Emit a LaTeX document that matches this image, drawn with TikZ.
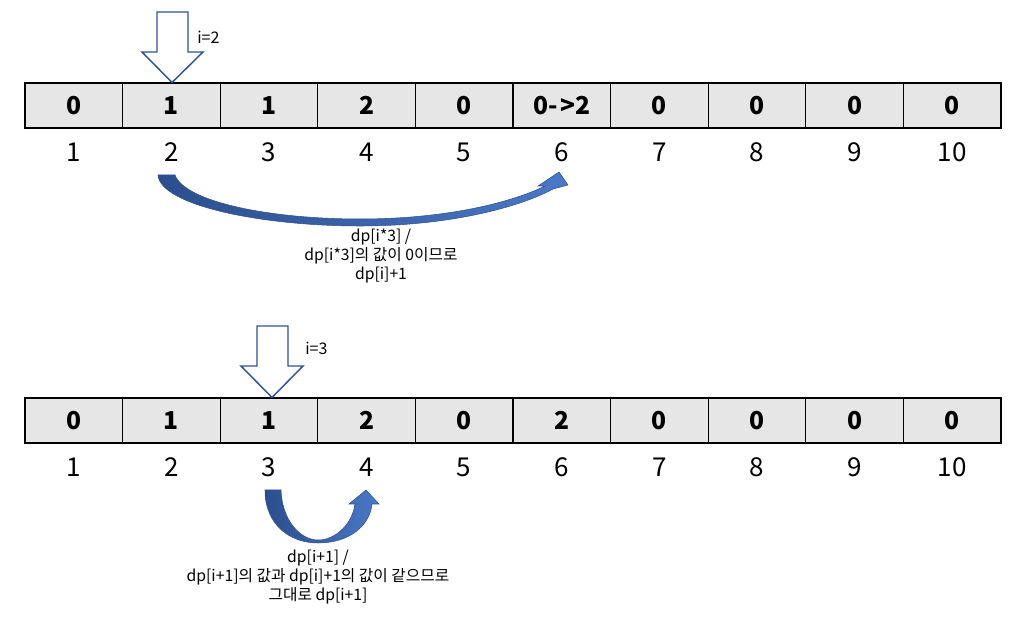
\documentclass[tikz,border=0pt]{standalone}
\usepackage{fontspec}
\setmainfont{Noto Sans CJK KR}
\definecolor{cellgray}{HTML}{E7E6E6}
\definecolor{outblue}{HTML}{2F528F}
\definecolor{darkblue}{HTML}{2C4E8C}
\definecolor{lightblue}{HTML}{4A78C8}
\tikzset{
  cell/.style={draw=black, fill=cellgray, line width=1pt, minimum width=73.2pt, minimum height=33.75pt, inner sep=0pt, font=\fontsize{18.5}{20}\selectfont\bfseries},
  idx/.style={inner sep=0pt, font=\fontsize{19.5}{22}\selectfont},
  note/.style={inner sep=0pt, align=center, font=\fontsize{11.8}{14.5}\selectfont},
  ilabel/.style={inner sep=0pt, anchor=west, font=\fontsize{12}{14}\selectfont},
  blockarrow/.style={draw=outblue, line width=1.1pt, fill=white, line join=miter},
  curvearrow/.style={draw=outblue, line width=0.4pt, left color=darkblue, right color=lightblue}
}
\begin{document}
\begin{tikzpicture}[x=0.75pt,y=-0.75pt]
\useasboundingbox (0,0) rectangle (1029,623);
% row 1
\foreach \v [count=\i] in {0,1,1,2,0,{0-\kern1.5pt>2},0,0,0,0} {
  \node[cell] (a\i) at ({25+97.6*(\i-0.5)},105.5) {\v};
  \node[idx] (ai\i) at ({25+97.6*(\i-0.5)},152) {\i};
}
% row 2
\foreach \v [count=\i] in {0,1,1,2,0,2,0,0,0,0} {
  \node[cell] (b\i) at ({25+97.6*(\i-0.5)},420.5) {\v};
  \node[idx] (bi\i) at ({25+97.6*(\i-0.5)},467) {\i};
}
% down arrows
\draw[blockarrow] (157,12) -- (188,12) -- (188,52) -- (203,52) -- (172,82.5) -- (142,52) -- (157,52) -- cycle;
\node[ilabel] (l1) at (197,37) {i=2};
\draw[blockarrow] (257,326) -- (288,326) -- (288,366) -- (303,366) -- (272,397.5) -- (241,366) -- (257,366) -- cycle;
\node[ilabel] (l2) at (305,348) {i=3};
% curved arrow 1
\path[curvearrow] (158,175) .. controls (160,205) and (260,226) .. (360,226)
  .. controls (450,226) and (520,207) .. (553,189) -- (568,185) -- (559,172) -- (538,186) -- (545,186)
  .. controls (515,201) and (450,219) .. (360,219)
  .. controls (270,219) and (185,202) .. (175,175) -- cycle;
\node[note] (t1) at (381,256) {dp[i*3] /\\dp[i*3]의 값이 0이므로\\dp[i]+1};
% curved arrow 2
\path[curvearrow] (265,490) .. controls (265,525) and (290,543) .. (318,543)
  .. controls (350,543) and (370,525) .. (372,504) -- (379,504) -- (366,490) -- (349,504) -- (355,504)
  .. controls (352,525) and (335,540) .. (318,540)
  .. controls (300,540) and (282,520) .. (281,490) -- cycle;
\node[note] (t2) at (318,577) {dp[i+1] /\\dp[i+1]의 값과 dp[i]+1의 값이 같으므로\\그대로 dp[i+1]};
\end{tikzpicture}
\end{document}
